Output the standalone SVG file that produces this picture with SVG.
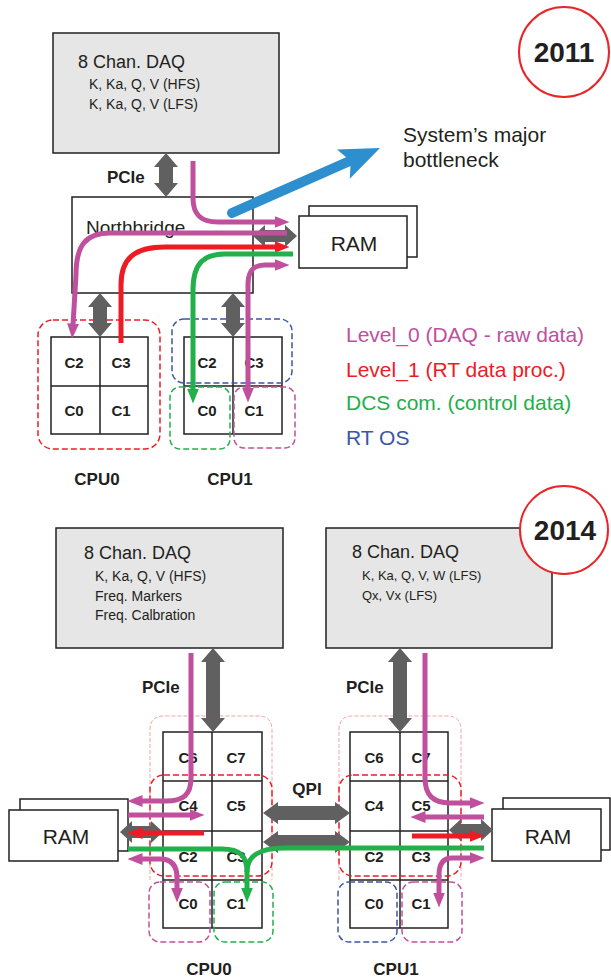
<svg xmlns="http://www.w3.org/2000/svg" width="611" height="979" viewBox="0 0 611 979">
<style>
.box{fill:#e6e6e6;stroke:#231f20;stroke-width:1.5}
.wb{fill:#fff;stroke:#231f20;stroke-width:1.5}
.gl{fill:none;stroke:#231f20;stroke-width:1.5}
.t{font-family:"Liberation Sans",Arial,sans-serif;fill:#231f20}
.bd{font-weight:bold}
.cl{font-family:"Liberation Sans",Arial,sans-serif;fill:#231f20;font-size:15px;font-weight:bold;text-anchor:middle}
.cpu{font-family:"Liberation Sans",Arial,sans-serif;fill:#231f20;font-size:17px;font-weight:bold;text-anchor:middle}
.dr{fill:none;stroke:#ed1c24;stroke-width:1.5;stroke-dasharray:6 3}
.dp{fill:none;stroke:#f4a3a3;stroke-width:1;stroke-dasharray:4 2}
.db{fill:none;stroke:#3c56a5;stroke-width:1.5;stroke-dasharray:6 3}
.dg{fill:none;stroke:#22b04b;stroke-width:1.5;stroke-dasharray:6 3}
.dm{fill:none;stroke:#c0509e;stroke-width:1.5;stroke-dasharray:6 3}
.gy{fill:#606060}
.lm{fill:none;stroke:#c0509e;stroke-width:5}
.lr{fill:none;stroke:#ed1c24;stroke-width:5}
.lg{fill:none;stroke:#22b04b;stroke-width:5}
.yr{fill:#fff;stroke:#e8262a;stroke-width:2}
</style>
<defs>
<marker id="am" viewBox="0 0 10 8" refX="1" refY="4" markerWidth="3" markerHeight="2.4" orient="auto-start-reverse"><path d="M0,0 L10,4 L0,8 z" fill="#c0509e"/></marker>
<marker id="ar" viewBox="0 0 10 8" refX="1" refY="4" markerWidth="3" markerHeight="2.4" orient="auto-start-reverse"><path d="M0,0 L10,4 L0,8 z" fill="#ed1c24"/></marker>
<marker id="ag" viewBox="0 0 10 8" refX="1" refY="4" markerWidth="3" markerHeight="2.4" orient="auto-start-reverse"><path d="M0,0 L10,4 L0,8 z" fill="#22b04b"/></marker>
</defs>

<!-- ===== 2011 ===== -->
<g id="year2011">
<circle class="yr" cx="564" cy="52" r="45"/>
<text class="t bd" x="564" y="62" font-size="28" text-anchor="middle">2011</text>
</g>
<g id="daq2011">
<rect class="box" x="53" y="33" width="226" height="120"/>
<text class="t" x="78" y="68" font-size="18">8 Chan. DAQ</text>
<text class="t" x="89" y="89" font-size="14">K, Ka, Q, V (HFS)</text>
<text class="t" x="89" y="109" font-size="14">K, Ka, Q, V (LFS)</text>
</g>
<g id="northbridge">
<rect class="wb" x="72" y="197" width="181" height="96"/>
<text class="t" x="86" y="234" font-size="19">Northbridge</text>
</g>
<g id="ram2011">
<rect class="wb" x="309" y="206" width="108" height="51"/>
<rect class="wb" x="299" y="216" width="108" height="52"/>
<text class="t" x="354" y="251" font-size="21" text-anchor="middle">RAM</text>
</g>
<g id="cpu0_2011">
<rect class="gl" x="51" y="337" width="97" height="97"/>
<line class="gl" x1="100" y1="337" x2="100" y2="434"/>
<line class="gl" x1="51" y1="386" x2="148" y2="386"/>
<text class="cl" x="74" y="368">C2</text>
<text class="cl" x="121" y="368">C3</text>
<text class="cl" x="74" y="416">C0</text>
<text class="cl" x="121" y="416">C1</text>
<rect class="dr" x="38" y="320" width="122" height="129" rx="15"/>
<text class="cpu" x="97" y="485">CPU0</text>
</g>
<g id="cpu1_2011">
<rect class="gl" x="184" y="337" width="98" height="97"/>
<line class="gl" x1="233" y1="337" x2="233" y2="434"/>
<line class="gl" x1="184" y1="386" x2="282" y2="386"/>
<text class="cl" x="207" y="368">C2</text>
<text class="cl" x="254" y="368">C3</text>
<text class="cl" x="207" y="416">C0</text>
<text class="cl" x="254" y="416">C1</text>
<rect class="db" x="172" y="319" width="120" height="64" rx="12"/>
<rect class="dg" x="170" y="387" width="60" height="62" rx="10"/>
<rect class="dm" x="234" y="387" width="61" height="61" rx="10"/>
<text class="cpu" x="230" y="485">CPU1</text>
</g>
<g id="bottleneck">
<text class="t" x="403" y="142" font-size="21" fill="#333">System’s major</text>
<text class="t" x="403" y="167" font-size="21" fill="#333">bottleneck</text>
</g>
<g id="legend" font-family="'Liberation Sans',Arial,sans-serif" font-size="21">
<text x="346" y="342" fill="#c0509e">Level_0 (DAQ - raw data)</text>
<text x="346" y="377" fill="#ed1c24">Level_1 (RT data proc.)</text>
<text x="346" y="410" fill="#22b04b">DCS com. (control data)</text>
<text x="346" y="445" fill="#3c56a5">RT OS</text>
</g>
<text class="t bd" x="107" y="183" font-size="17">PCIe</text>

<!-- ===== 2014 ===== -->
<g id="daqL2014">
<rect class="box" x="56" y="528" width="227" height="120"/>
<text class="t" x="84" y="559" font-size="18">8 Chan. DAQ</text>
<text class="t" x="95" y="581" font-size="14">K, Ka, Q, V (HFS)</text>
<text class="t" x="95" y="601" font-size="14">Freq. Markers</text>
<text class="t" x="95" y="620" font-size="14">Freq. Calbration</text>
</g>
<g id="daqR2014">
<rect class="box" x="326" y="528" width="226" height="120"/>
<text class="t" x="352" y="558" font-size="18">8 Chan. DAQ</text>
<text class="t" x="362" y="580" font-size="13">K, Ka, Q, V, W (LFS)</text>
<text class="t" x="362" y="600" font-size="13">Qx, Vx (LFS)</text>
</g>
<g id="year2014">
<circle class="yr" cx="564" cy="530" r="44"/>
<text class="t bd" x="565" y="540" font-size="28" text-anchor="middle">2014</text>
</g>
<g id="ramL2014">
<rect class="wb" x="20" y="799" width="108" height="52"/>
<rect class="wb" x="9" y="810" width="109" height="51"/>
<text class="t" x="66" y="844" font-size="21" text-anchor="middle">RAM</text>
</g>
<g id="ramR2014">
<rect class="wb" x="503" y="798" width="107" height="52"/>
<rect class="wb" x="492" y="809" width="109" height="52"/>
<text class="t" x="548" y="844" font-size="21" text-anchor="middle">RAM</text>
</g>
<g id="cpu0_2014">
<rect class="gl" x="163" y="732" width="99" height="196"/>
<line class="gl" x1="212" y1="732" x2="212" y2="928"/>
<line class="gl" x1="163" y1="781" x2="262" y2="781"/>
<line class="gl" x1="163" y1="831" x2="262" y2="831"/>
<line class="gl" x1="163" y1="880" x2="262" y2="880"/>
<text class="cl" x="188" y="763">C6</text>
<text class="cl" x="236" y="763">C7</text>
<text class="cl" x="188" y="811">C4</text>
<text class="cl" x="236" y="811">C5</text>
<text class="cl" x="188" y="862">C2</text>
<text class="cl" x="236" y="862">C3</text>
<text class="cl" x="188" y="909">C0</text>
<text class="cl" x="236" y="909">C1</text>
<path class="dp" d="M150,880 V730 Q150,716 164,716 H258 Q272,716 272,730 V880"/>
<rect class="dr" x="150" y="775" width="122" height="101" rx="14"/>
<rect class="dm" x="149" y="882" width="61" height="60" rx="11"/>
<rect class="dg" x="214" y="882" width="59" height="60" rx="11"/>
<text class="cpu" x="209" y="975">CPU0</text>
</g>
<g id="cpu1_2014">
<rect class="gl" x="350" y="732" width="98" height="196"/>
<line class="gl" x1="400" y1="732" x2="400" y2="928"/>
<line class="gl" x1="350" y1="781" x2="448" y2="781"/>
<line class="gl" x1="350" y1="831" x2="448" y2="831"/>
<line class="gl" x1="350" y1="880" x2="448" y2="880"/>
<text class="cl" x="374" y="763">C6</text>
<text class="cl" x="421" y="763">C7</text>
<text class="cl" x="374" y="811">C4</text>
<text class="cl" x="421" y="811">C5</text>
<text class="cl" x="374" y="862">C2</text>
<text class="cl" x="421" y="862">C3</text>
<text class="cl" x="374" y="909">C0</text>
<text class="cl" x="421" y="909">C1</text>
<path class="dp" d="M339,880 V730 Q339,716 353,716 H447 Q461,716 461,730 V880"/>
<rect class="dr" x="339" y="775" width="122" height="101" rx="14"/>
<rect class="db" x="338" y="882" width="59" height="60" rx="11"/>
<rect class="dm" x="402" y="882" width="60" height="60" rx="11"/>
<text class="cpu" x="396" y="975">CPU1</text>
</g>
<text class="t bd" x="142" y="693" font-size="17">PCIe</text>
<text class="t bd" x="346" y="693" font-size="17">PCIe</text>
<text class="t bd" x="307" y="795" font-size="17" text-anchor="middle">QPI</text>

<!-- ===== connectors ===== -->
<g id="connectors">
<polygon class="gy" points="166,153 178,167 173,167 173,183 178,183 166,197 154,183 159,183 159,167 154,167"/>
<polygon class="gy" points="100,293 112,307 107,307 107,323 112,323 100,337 88,323 93,323 93,307 88,307"/>
<polygon class="gy" points="233,293 245,307 240,307 240,323 245,323 233,337 221,323 226,323 226,307 221,307"/>
<polygon class="gy" points="253,236 265,225 265,230 285,230 285,225 297,236 285,247 285,242 265,242 265,247"/>
<polygon class="gy" points="213,648 225,662 220,662 220,718 225,718 213,732 201,718 206,718 206,662 201,662"/>
<polygon class="gy" points="400,648 412,662 407,662 407,718 412,718 400,732 388,718 393,718 393,662 388,662"/>
<polygon class="gy" points="120,832 132,821 132,826 151,826 151,821 163,832 151,843 151,838 132,838 132,843"/>
<polygon class="gy" points="449,830 461,819 461,824 481,824 481,819 493,830 481,841 481,836 461,836 461,841"/>
<polygon class="gy" points="263,813 278,802 278,806 335,806 335,802 350,813 335,824 335,820 278,820 278,824"/>
<polygon class="gy" points="263,842 278,831 278,835 335,835 335,831 350,842 335,853 335,849 278,849 278,853"/>

<path class="lm" d="M193,161 V198 C193,214 200,222 218,222 H276" marker-end="url(#am)"/>
<path class="lm" d="M287,233 H110 C86,233 76,245 76,275 L73,325" marker-end="url(#am)"/>
<path class="lr" d="M121,343 V285 C121,258 135,247 165,247 H276" marker-end="url(#ar)"/>
<path class="lg" d="M293,254 H225 C205,254 193,262 193,290 V390" marker-end="url(#ag)"/>
<path class="lm" d="M248,389 V285 C248,271 253,265 265,265 H276" marker-start="url(#am)" marker-end="url(#am)"/>
<path d="M232,213 L352,160" stroke="#2e8fcf" stroke-width="10" stroke-linecap="round" fill="none"/>
<polygon points="380,148 337,149.4 350.7,160.9 349.8,178.8" fill="#2e8fcf"/>

<path class="lm" d="M191,653 V778 C191,795 183,801 166,801 H141" marker-end="url(#am)"/>
<path class="lm" d="M128,815 H191" marker-end="url(#am)"/>
<path class="lr" d="M204,833 H141" marker-end="url(#ar)"/>
<path class="lg" d="M128,849 H222 C240,849 247,856 247,872 V889" marker-end="url(#ag)"/>
<path class="lg" d="M484,848 H285 C260,848 247,855 247,872"/>
<path class="lm" d="M141,859 H160 C172,859 177,866 177,878 V889" marker-start="url(#am)" marker-end="url(#am)"/>

<path class="lm" d="M425,653 V778 C425,795 433,803 450,803 H471" marker-end="url(#am)"/>
<path class="lm" d="M484,817 H424" marker-end="url(#am)"/>
<path class="lr" d="M412,836 H471" marker-end="url(#ar)"/>
<path class="lm" d="M471,858 H452 C443,858 439,864 439,875 V894" marker-start="url(#am)" marker-end="url(#am)"/>
</g>
</svg>
